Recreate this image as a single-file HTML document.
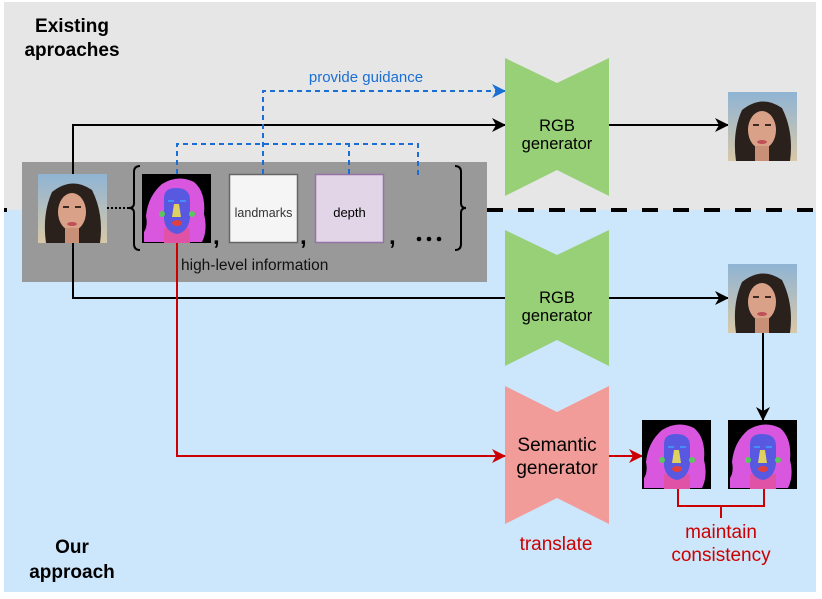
<!DOCTYPE html>
<html><head><meta charset="utf-8"><style>
html,body{margin:0;padding:0;background:#fff}
svg{display:block}
text{font-family:"Liberation Sans",Arial,sans-serif}
</style></head><body>
<svg width="822" height="599" viewBox="0 0 822 599" xmlns="http://www.w3.org/2000/svg">
<defs>
<g id="seg">
<rect x="0" y="0" width="69" height="69" fill="#000"/>
<path d="M2,68 L2,58 Q6,52 4,42 Q6,22 20,10 Q36,0 52,8 Q64,18 62,40 Q66,56 60,68 Z" fill="#d957de"/>
<rect x="22" y="54" width="26" height="15" fill="#e052a6"/>
<path d="M22,24 Q22,14 34,14 Q48,14 48,26 L48,44 Q46,58 35,60 Q24,58 22,46 Z" fill="#5858e0"/>
<circle cx="20" cy="40" r="3" fill="#5ac85a"/><circle cx="50" cy="40" r="3" fill="#5ac85a"/>
<path d="M32,30 L37,30 L39,43 L30,43 Z" fill="#e0d060"/>
<ellipse cx="35" cy="49" rx="5" ry="3" fill="#e04040"/>
<path d="M26,27 L32,27 M38,27 L44,27" stroke="#40a0ff" stroke-width="1.5"/>
</g>
<linearGradient id="sky" x1="0" y1="0" x2="0" y2="1"><stop offset="0" stop-color="#8fb4d4"/><stop offset="1" stop-color="#d8c8a8"/></linearGradient>
<g id="face">
<rect x="0" y="0" width="69" height="69" fill="url(#sky)"/>
<path d="M8,69 Q4,40 14,18 Q34,2 54,16 Q66,40 62,69 Z" fill="#2a211c"/>
<ellipse cx="34" cy="38" rx="14" ry="19" fill="#d9a288"/>
<rect x="27" y="54" width="14" height="15" fill="#c99078"/>
<ellipse cx="34" cy="50" rx="5" ry="2" fill="#c05058"/>
<path d="M25,33 L31,33 M37,33 L43,33" stroke="#3a2a22" stroke-width="2"/>
</g>
<marker id="ab" markerWidth="14" markerHeight="14" refX="13" refY="7" orient="auto" markerUnits="userSpaceOnUse"><path d="M0,0 L14,7 L0,14 L4,7 Z" fill="#000"/></marker>
<marker id="ar" markerWidth="14" markerHeight="14" refX="13" refY="7" orient="auto" markerUnits="userSpaceOnUse"><path d="M0,0 L14,7 L0,14 L4,7 Z" fill="#cc0000"/></marker>
<marker id="au" markerWidth="14" markerHeight="14" refX="13" refY="7" orient="auto" markerUnits="userSpaceOnUse"><path d="M0,0 L14,7 L0,14 L4,7 Z" fill="#1a6fd4"/></marker>
</defs>
<rect x="4" y="2" width="812" height="208" fill="#e6e6e6"/>
<rect x="4" y="210" width="812" height="382" fill="#cce6fb"/>
<line x1="4" y1="210" x2="816" y2="210" stroke="#000" stroke-width="4" stroke-dasharray="16,15" stroke-dashoffset="-18"/>
<text x="72" y="32" font-size="19" font-weight="bold" text-anchor="middle">Existing</text>
<text x="72" y="56" font-size="19" font-weight="bold" text-anchor="middle">aproaches</text>
<text x="72" y="553" font-size="19" font-weight="bold" text-anchor="middle">Our</text>
<text x="72" y="578" font-size="19" font-weight="bold" text-anchor="middle">approach</text>

<rect x="22" y="162" width="465" height="120" fill="#999"/>
<path d="M73,208 L73,125 L505,125" fill="none" stroke="#000" stroke-width="2" marker-end="url(#ab)"/>
<path d="M73,208 L73,298 L728,298" fill="none" stroke="#000" stroke-width="2" marker-end="url(#ab)"/>
<use href="#face" x="38" y="174"/>
<line x1="107" y1="208" x2="132" y2="208" stroke="#000" stroke-width="2" stroke-dasharray="2,2"/>
<path d="M140,166 Q134,166 134,172 L134,203 Q134,208 129,208 Q134,208 134,213 L134,244 Q134,250 140,250" fill="none" stroke="#000" stroke-width="2"/>
<path d="M455,166 Q461,166 461,172 L461,203 Q461,208 466,208 Q461,208 461,213 L461,244 Q461,250 455,250" fill="none" stroke="#000" stroke-width="2"/>
<use href="#seg" x="142" y="174"/>
<rect x="229.5" y="174.5" width="68" height="68" fill="#f5f5f5" stroke="#666" stroke-width="1.5"/>
<text x="263.5" y="217" font-size="12.5" text-anchor="middle" fill="#333">landmarks</text>
<rect x="315.5" y="174.5" width="68" height="68" fill="#e1d5e7" stroke="#9673a6" stroke-width="1.5"/>
<text x="349.5" y="217" font-size="13" text-anchor="middle">depth</text>
<text x="213" y="244" font-size="24" font-weight="bold">,</text>
<text x="300" y="244" font-size="24" font-weight="bold">,</text>
<text x="389" y="244" font-size="24" font-weight="bold">,</text>
<circle cx="419" cy="239" r="2.3" fill="#000"/><circle cx="429" cy="239" r="2.3" fill="#000"/><circle cx="439" cy="239" r="2.3" fill="#000"/>
<text x="181" y="270" font-size="15.5" fill="#111">high-level information</text>

<path d="M263,174 L263,91 L505,91" fill="none" stroke="#1a6fd4" stroke-width="2" stroke-dasharray="5,4" marker-end="url(#au)"/>
<path d="M177,174 L177,144 L418,144 L418,178 M349,174 L349,144" fill="none" stroke="#1a6fd4" stroke-width="2" stroke-dasharray="5,4"/>
<text x="366" y="82" font-size="15" fill="#1a6fd4" text-anchor="middle">provide guidance</text>

<path d="M505,58 L557,83 L609,58 L609,196 L557,170 L505,196 Z" fill="#97d077"/>
<text x="557" y="131" font-size="16.5" text-anchor="middle">RGB</text>
<text x="557" y="149" font-size="16.5" text-anchor="middle">generator</text>
<path d="M505,230 L557,255 L609,230 L609,366 L557,340 L505,366 Z" fill="#97d077"/>
<text x="557" y="303" font-size="16.5" text-anchor="middle">RGB</text>
<text x="557" y="321" font-size="16.5" text-anchor="middle">generator</text>
<path d="M505,386 L557,412 L609,386 L609,524 L557,498 L505,524 Z" fill="#f19c99"/>
<text x="557" y="451" font-size="19" text-anchor="middle">Semantic</text>
<text x="557" y="474" font-size="19" text-anchor="middle">generator</text>
<text x="556" y="550" font-size="19" fill="#cc0000" text-anchor="middle">translate</text>

<path d="M609,125 L728,125" stroke="#000" stroke-width="2" marker-end="url(#ab)"/>
<use href="#face" x="728" y="92"/>
<use href="#face" x="728" y="264"/>
<path d="M763,333 L763,420" stroke="#000" stroke-width="2" marker-end="url(#ab)"/>

<path d="M177,243 L177,456 L505,456" fill="none" stroke="#cc0000" stroke-width="2" marker-end="url(#ar)"/>
<path d="M609,456 L642,456" stroke="#cc0000" stroke-width="2" marker-end="url(#ar)"/>
<use href="#seg" x="642" y="420"/>
<use href="#seg" x="728" y="420"/>
<path d="M678,489 L678,506 L764,506 L764,489 M721,506 L721,518" fill="none" stroke="#cc0000" stroke-width="2"/>
<text x="721" y="538" font-size="19" fill="#cc0000" text-anchor="middle">maintain</text>
<text x="721" y="561" font-size="19" fill="#cc0000" text-anchor="middle">consistency</text>
</svg>
</body></html>
